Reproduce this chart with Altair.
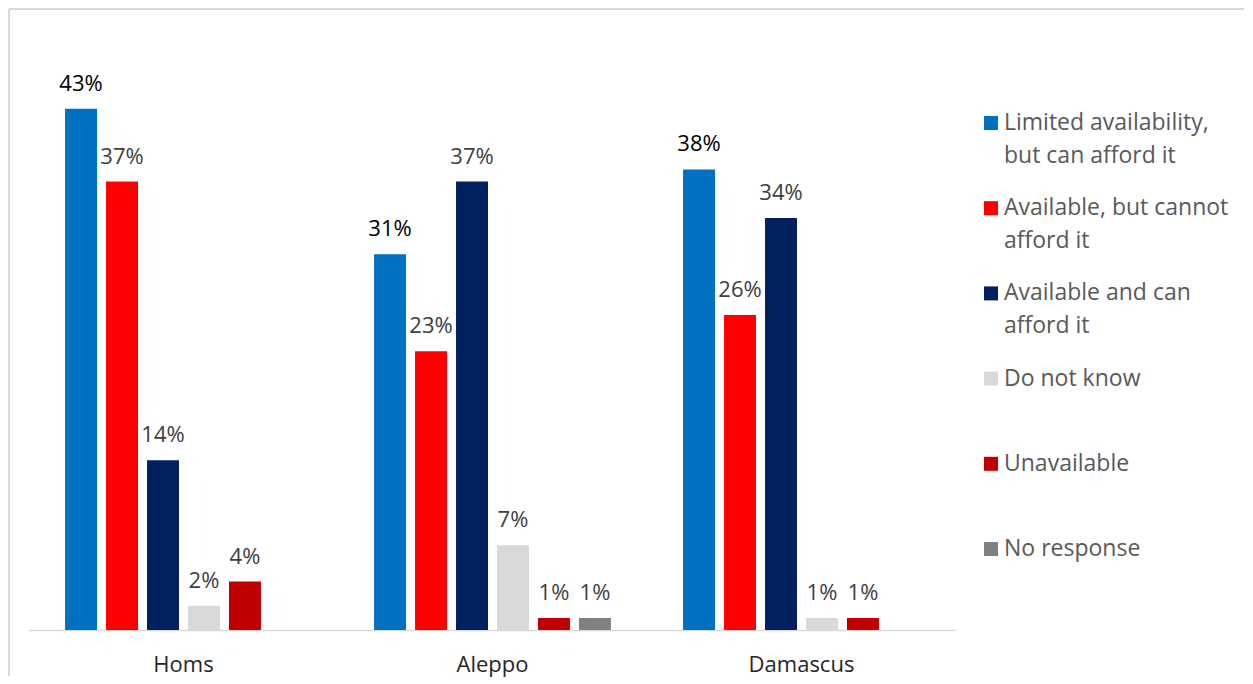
import altair as alt
import pandas as pd

cities = ["Homs", "Aleppo", "Damascus"]
categories = [
    "Limited availability, but can afford it",
    "Available, but cannot afford it",
    "Available and can afford it",
    "Do not know",
    "Unavailable",
    "No response",
]
bar_colors = ["#0070C0", "#FF0000", "#002060", "#D9D9D9", "#C00000", "#808080"]
label_colors = ["#000000", "#404040", "#404040", "#404040", "#404040", "#404040"]

homs = [43, 37, 14, 2, 4, None]
aleppo = [31, 23, 37, 7, 1, 1]
damascus = [38, 26, 34, 1, 1, None]

legend_line1 = ["Limited availability,", "Available, but cannot", "Available and can",
                "Do not know", "Unavailable", "No response"]
legend_line2 = ["but can afford it", "afford it", "afford it", "", "", ""]

FONT = "Open Sans"

rows = []
for city, vals in zip(cities, [homs, aleppo, damascus]):
    for cat, v, lc in zip(categories, vals, label_colors):
        if v is None:
            continue
        rows.append({"city": city, "category": cat, "value": v,
                     "label": f"{v}%", "lc": lc})
df = pd.DataFrame(rows)

leg_df = pd.DataFrame({"category": categories, "line1": legend_line1,
                       "line2": legend_line2})

color_scale = alt.Scale(domain=categories, range=bar_colors)

base = alt.Chart(df).encode(
    x=alt.X("city:N", sort=cities,
            scale=alt.Scale(paddingInner=0, paddingOuter=0),
            axis=alt.Axis(title=None, labelAngle=0, ticks=False,
                          domainColor="#D9D9D9", domainWidth=1.5,
                          labelFont=FONT, labelFontSize=22,
                          labelColor="#262626", labelPadding=24)),
    xOffset=alt.XOffset("category:N", sort=categories,
                        scale=alt.Scale(domain=categories, paddingInner=0.22,
                                        paddingOuter=0.88)),
    y=alt.Y("value:Q", scale=alt.Scale(domain=[0, 50]), axis=None),
)

bars = base.mark_bar().encode(
    color=alt.Color("category:N", scale=color_scale, legend=None)
)
labels = base.mark_text(baseline="alphabetic", dy=-18, fontSize=22,
                        font=FONT).encode(
    text="label:N",
    color=alt.Color("lc:N", scale=None),
)

# light grey chart-area frame (top and left edges, as in the reference)
frame_df = pd.DataFrame({"f": [0]})
frame_top = alt.Chart(frame_df).mark_rule(color="#D9D9D9", strokeWidth=2).encode(
    x=alt.value(-20), x2=alt.value(1215), y=alt.value(-15)
)
frame_left = alt.Chart(frame_df).mark_rule(color="#D9D9D9", strokeWidth=2).encode(
    x=alt.value(-20), y=alt.value(-15), y2=alt.value(652)
)

main = alt.layer(bars, labels, frame_top, frame_left).properties(width=927, height=606)

leg = alt.Chart(leg_df).encode(
    y=alt.Y("category:N", sort=categories,
            scale=alt.Scale(type="point", domain=categories, range=[99, 525],
                            padding=0),
            axis=None)
)
sq = leg.mark_square(size=196, opacity=1).encode(
    x=alt.value(14),
    color=alt.Color("category:N", scale=color_scale, legend=None),
)
t1 = leg.mark_text(align="left", baseline="middle", fontSize=23, font=FONT,
                   color="#595959").encode(x=alt.value(27), text="line1:N")
t2 = leg.mark_text(align="left", baseline="middle", fontSize=23, font=FONT,
                   color="#595959", dy=33).encode(x=alt.value(27), text="line2:N")
legend = alt.layer(sq, t1, t2).properties(width=260, height=606)

chart = alt.hconcat(main, legend, spacing=21, bounds="flush").properties(
    padding={"left": 0, "top": 0, "right": 0, "bottom": 0}
).configure_view(stroke=None)

chart.save("out.html", embed_options={"renderer": "svg", "actions": False})
